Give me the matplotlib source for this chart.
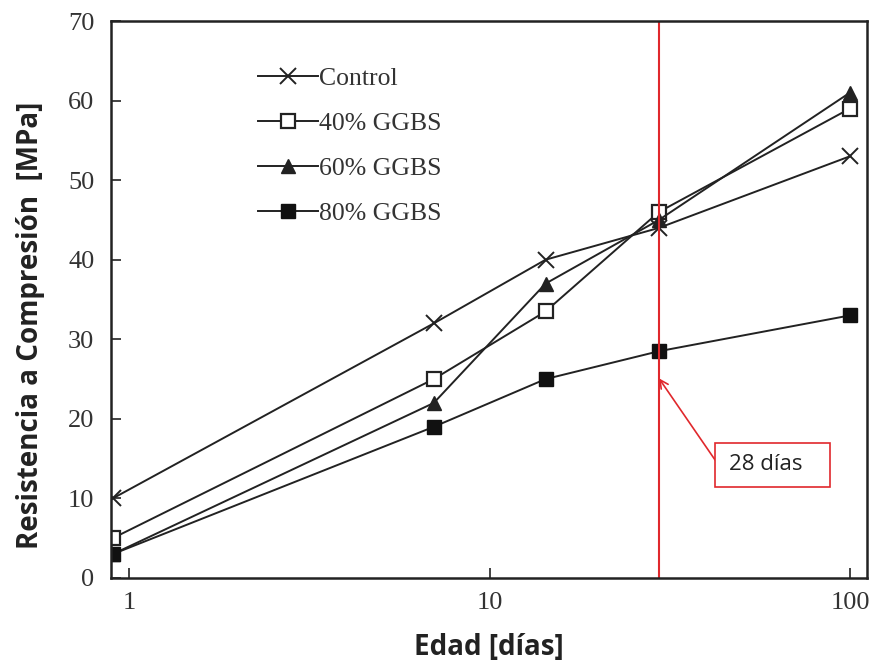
import matplotlib
matplotlib.use("Agg")
import matplotlib.pyplot as plt
from matplotlib.patches import Rectangle
from matplotlib.ticker import FixedLocator, NullLocator, FixedFormatter

# ---- data ----
days = [0.9, 7, 14.3, 29.5, 100]
control = [10, 32, 40, 44, 53]
ggbs40 = [5, 25, 33.5, 46, 59]
ggbs60 = [3, 22, 37, 45, 61]
ggbs80 = [3, 19, 25, 28.5, 33]
series_labels = ["Control", "40% GGBS", "60% GGBS", "80% GGBS"]
xticks = [1, 10, 100]
xtick_labels = ["1", "10", "100"]
yticks = [0, 10, 20, 30, 40, 50, 60, 70]
line_28 = 29.5
arrow_y = 25.1
annot_text = "28 días"

fig = plt.figure(figsize=(8.75, 6.64), dpi=100)
ax = fig.add_axes([111/875, 1-578/664, 756/875, 557/664])

serif = ["Liberation Serif", "DejaVu Serif"]
sans = ["Open Sans", "DejaVu Sans"]
lc = "#222222"
red = "#e0282c"
ax.plot(days, control, color=lc, lw=1.4, marker="x", ms=11, mew=1.4, label=series_labels[0])
ax.plot(days, ggbs40, color=lc, lw=1.4, marker="s", ms=10, mfc="white", mec=lc, mew=1.6, label=series_labels[1])
ax.plot(days, ggbs60, color=lc, lw=1.4, marker="^", ms=10, mfc=lc, mec=lc, label=series_labels[2])
ax.plot(days, ggbs80, color=lc, lw=1.4, marker="s", ms=10.5, mfc="#111111", mec="#111111", label=series_labels[3])

ax.set_xscale("log")
ax.set_xlim(0.89, 111.5)
ax.set_ylim(0, 70)
ax.xaxis.set_major_locator(FixedLocator(xticks))
ax.xaxis.set_major_formatter(FixedFormatter(xtick_labels))
ax.xaxis.set_minor_locator(NullLocator())
ax.set_yticks(yticks)
ax.tick_params(direction="in", length=7.5, width=1.2, color="#222222", top=False, right=False,
               labelsize=19, labelcolor="#333333")
ax.tick_params(axis="y", pad=12)
ax.tick_params(axis="x", pad=10)
for lab in ax.get_xticklabels() + ax.get_yticklabels():
    lab.set_family(serif)
for s in ax.spines.values():
    s.set_linewidth(1.8)
    s.set_color("#222222")

ax.axvline(line_28, color=red, lw=1.5)

# annotation box and arrow
ax.add_patch(Rectangle((0.799, 0.163), 0.152, 0.079, transform=ax.transAxes,
                       fc="white", ec=red, lw=1.2, zorder=4))
ax.text(0.866, 0.203, annot_text, transform=ax.transAxes, fontsize=16, family=sans,
        color="#222222", ha="center", va="center", zorder=5)
ax.annotate("", xy=(line_28, arrow_y), xycoords="data",
            xytext=(0.799, 0.212), textcoords="axes fraction",
            arrowprops=dict(arrowstyle="->,head_length=0.6,head_width=0.3", color=red, lw=1.2,
                            shrinkA=0, shrinkB=0))

leg = ax.legend(loc="upper left", bbox_to_anchor=(0.1944, 0.917), frameon=False,
                borderaxespad=0, borderpad=0,
                prop={"family": serif, "size": 18.5}, handlelength=2.33, handletextpad=0.05,
                labelspacing=0.85, labelcolor="#333333")

ax.set_xlabel("Edad [días]", fontsize=20, fontweight="bold", family=sans,
              color="#222222", va="baseline")
ax.xaxis.set_label_coords(0.5, -0.138)
ax.set_ylabel("Resistencia a Compresión  [MPa]", fontsize=20, fontweight="bold",
              family=sans, color="#222222", va="center")
ax.yaxis.set_label_coords(-0.106, 0.453)

fig.savefig("out.png", dpi=100)
